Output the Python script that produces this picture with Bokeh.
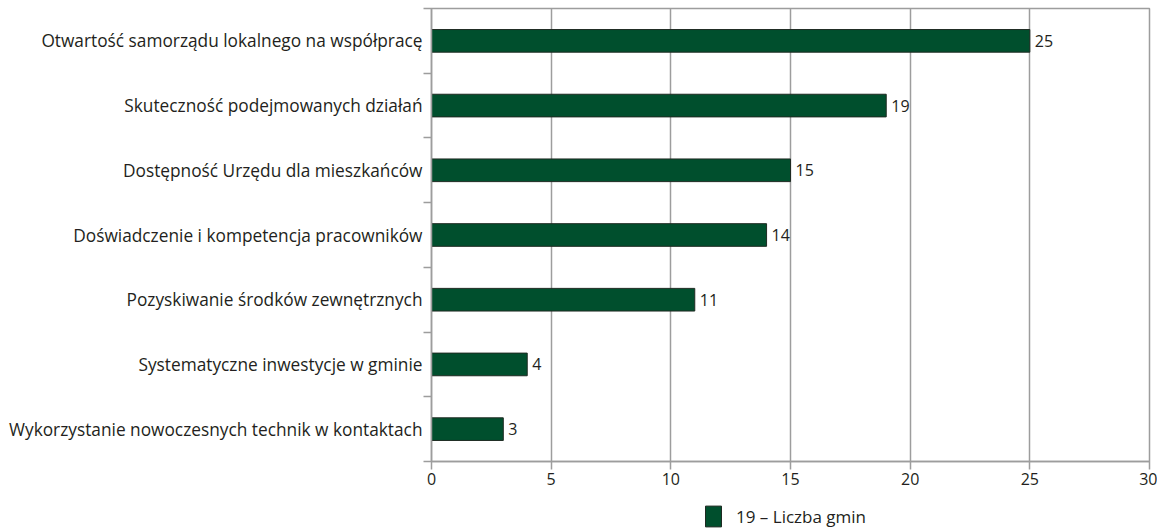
from bokeh.plotting import figure
from bokeh.layouts import column
from bokeh.models import ColumnDataSource, FixedTicker, Legend, LegendItem
from bokeh.core.properties import value
from bokeh.embed import file_html
from bokeh.resources import INLINE

categories = [
    "Otwartość samorządu lokalnego na współpracę",
    "Skuteczność podejmowanych działań",
    "Dostępność Urzędu dla mieszkańców",
    "Doświadczenie i kompetencja pracowników",
    "Pozyskiwanie środków zewnętrznych",
    "Systematyczne inwestycje w gminie",
    "Wykorzystanie nowoczesnych technik w kontaktach",
]
values = [25, 19, 15, 14, 11, 4, 3]
x_ticks = [0, 5, 10, 15, 20, 25, 30]
legend_label = "19 – Liczba gmin"

n = len(categories)
ypos = [n - i - 0.5 for i in range(n)]
src = ColumnDataSource(dict(y=ypos, v=values, lab=[str(v) for v in values], cat=categories))

FONT = "Open Sans"
TXT = "#231f20"
GRID = "#9d9d9d"
GREEN = "#004f2d"
BAR_LINE = "#1e2a22"

p = figure(frame_width=718, frame_height=453, x_range=(0, 30), y_range=(0, n),
           output_backend="svg", toolbar_location=None,
           min_border_left=431, min_border_right=8, min_border_top=8, min_border_bottom=32)
p.outline_line_color = GRID
p.outline_line_width = 1.5
p.background_fill_color = "white"
p.border_fill_color = "white"

r = p.hbar(y="y", right="v", left=0, height=0.35, source=src,
           fill_color=GREEN, line_color=BAR_LINE, line_width=1)
p.text(x="v", y="y", text="lab", source=src, x_offset=5, text_baseline="middle",
       text_align="left", text_font_size="16px", text_color=TXT, text_font=value(FONT))

# x axis
xa = p.xaxis[0]
xa.ticker = FixedTicker(ticks=x_ticks)
xa.axis_line_color = GRID
xa.axis_line_width = 1.5
xa.major_tick_line_color = GRID
xa.major_tick_line_width = 1.5
xa.major_tick_in = 0
xa.major_tick_out = 8
xa.minor_tick_line_color = None
xa.major_label_text_font = FONT
xa.major_label_text_font_size = "16px"
xa.major_label_text_color = TXT
xa.major_label_standoff = 3

# y axis: labels at centres, ticks at boundaries (minor)
ya = p.yaxis[0]
ya.ticker = FixedTicker(ticks=ypos, minor_ticks=list(range(n + 1)))
ya.major_label_overrides = {y: c for y, c in zip(ypos, categories)}
ya.axis_line_color = GRID
ya.axis_line_width = 1.5
ya.major_tick_line_color = None
ya.major_tick_in = 0
ya.major_tick_out = 0
ya.minor_tick_line_color = GRID
ya.minor_tick_line_width = 1.5
ya.minor_tick_in = 0
ya.minor_tick_out = 8
ya.major_label_text_font = FONT
ya.major_label_text_font_size = "17.3px"
ya.major_label_text_color = TXT
ya.major_label_standoff = 1

p.ygrid.grid_line_color = None
p.xgrid.ticker = FixedTicker(ticks=x_ticks)
p.xgrid.grid_line_color = GRID
p.xgrid.grid_line_width = 1.5

# legend strip below the chart (its bars lie outside its visible range)
q = figure(frame_width=718, frame_height=36, x_range=(0, 30), y_range=(100, 101),
           output_backend="svg", toolbar_location=None,
           min_border_left=431, min_border_right=8, min_border_top=0, min_border_bottom=0)
q.axis.visible = False
q.grid.visible = False
q.outline_line_color = None
q.background_fill_color = "white"
q.border_fill_color = "white"
rq = q.hbar(y="y", right="v", left=0, height=0.35, source=src,
            fill_color=GREEN, line_color=BAR_LINE, line_width=1)
legend = Legend(items=[LegendItem(label=legend_label, renderers=[rq])],
                location=(272, 0), orientation="horizontal",
                padding=0, margin=0, border_line_color=None, background_fill_alpha=0,
                glyph_width=20, glyph_height=26, label_standoff=13, spacing=0,
                label_text_font=FONT, label_text_font_size="17px", label_text_color=TXT)
q.add_layout(legend, "center")

layout = column(p, q, spacing=0)
open("out.html", "w").write(file_html(layout, INLINE))
